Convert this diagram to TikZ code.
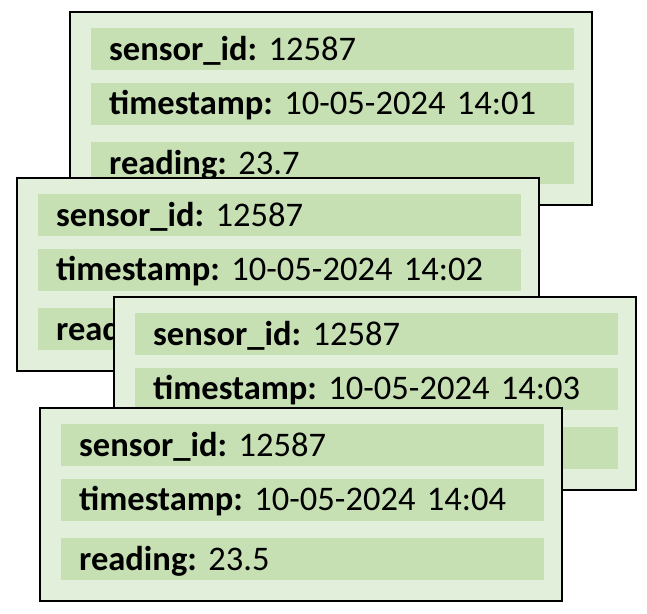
\documentclass[tikz,border=0pt]{standalone}
\usepackage{fontspec}
\setmainfont{Carlito}
\usepackage{tikz}
\usetikzlibrary{positioning}
\definecolor{cardgreen}{HTML}{E2EFDA}
\definecolor{rowgreen}{HTML}{C6E0B4}

\newcommand{\fieldfont}{\fontsize{34.5}{40}\selectfont\frenchspacing\spaceskip=0.24em\relax}

\tikzset{
  card/.style={draw=black, line width=2pt, fill=cardgreen, minimum width=522pt, minimum height=193pt, inner sep=0pt, anchor=north west},
  field/.style={fill=rowgreen, minimum height=42pt, text width=447pt, inner xsep=18pt, inner ysep=0pt, align=left, text height=24pt, text depth=2pt, font=\fieldfont},
}

% one sensor record: name, x, y, time, reading
\newcommand{\sensorcard}[5]{%
  \node[card] (#1) at (#2,#3) {};
  \node[field, below right=17pt and 22pt of #1.north west] (#1id) {\textbf{sensor\_id:} 12587};
  \node[field, below=12pt of #1id] (#1time) {\textbf{timestamp:} 10-05-2024 #4};
  \node[field, below=17pt of #1time] (#1read) {\textbf{reading:} #5};
}

\begin{document}
\begin{tikzpicture}[x=1pt, y=-1pt]
  \useasboundingbox (0,0) rectangle (647,613);

  % stacked records, back to front
  \sensorcard{rec1}{69}{11}{14:01}{23.7}
  \sensorcard{rec2}{16}{177}{14:02}{23.6}
  \sensorcard{rec3}{113}{296}{14:03}{23.6}
  \sensorcard{rec4}{39}{407}{14:04}{23.5}
\end{tikzpicture}
\end{document}
